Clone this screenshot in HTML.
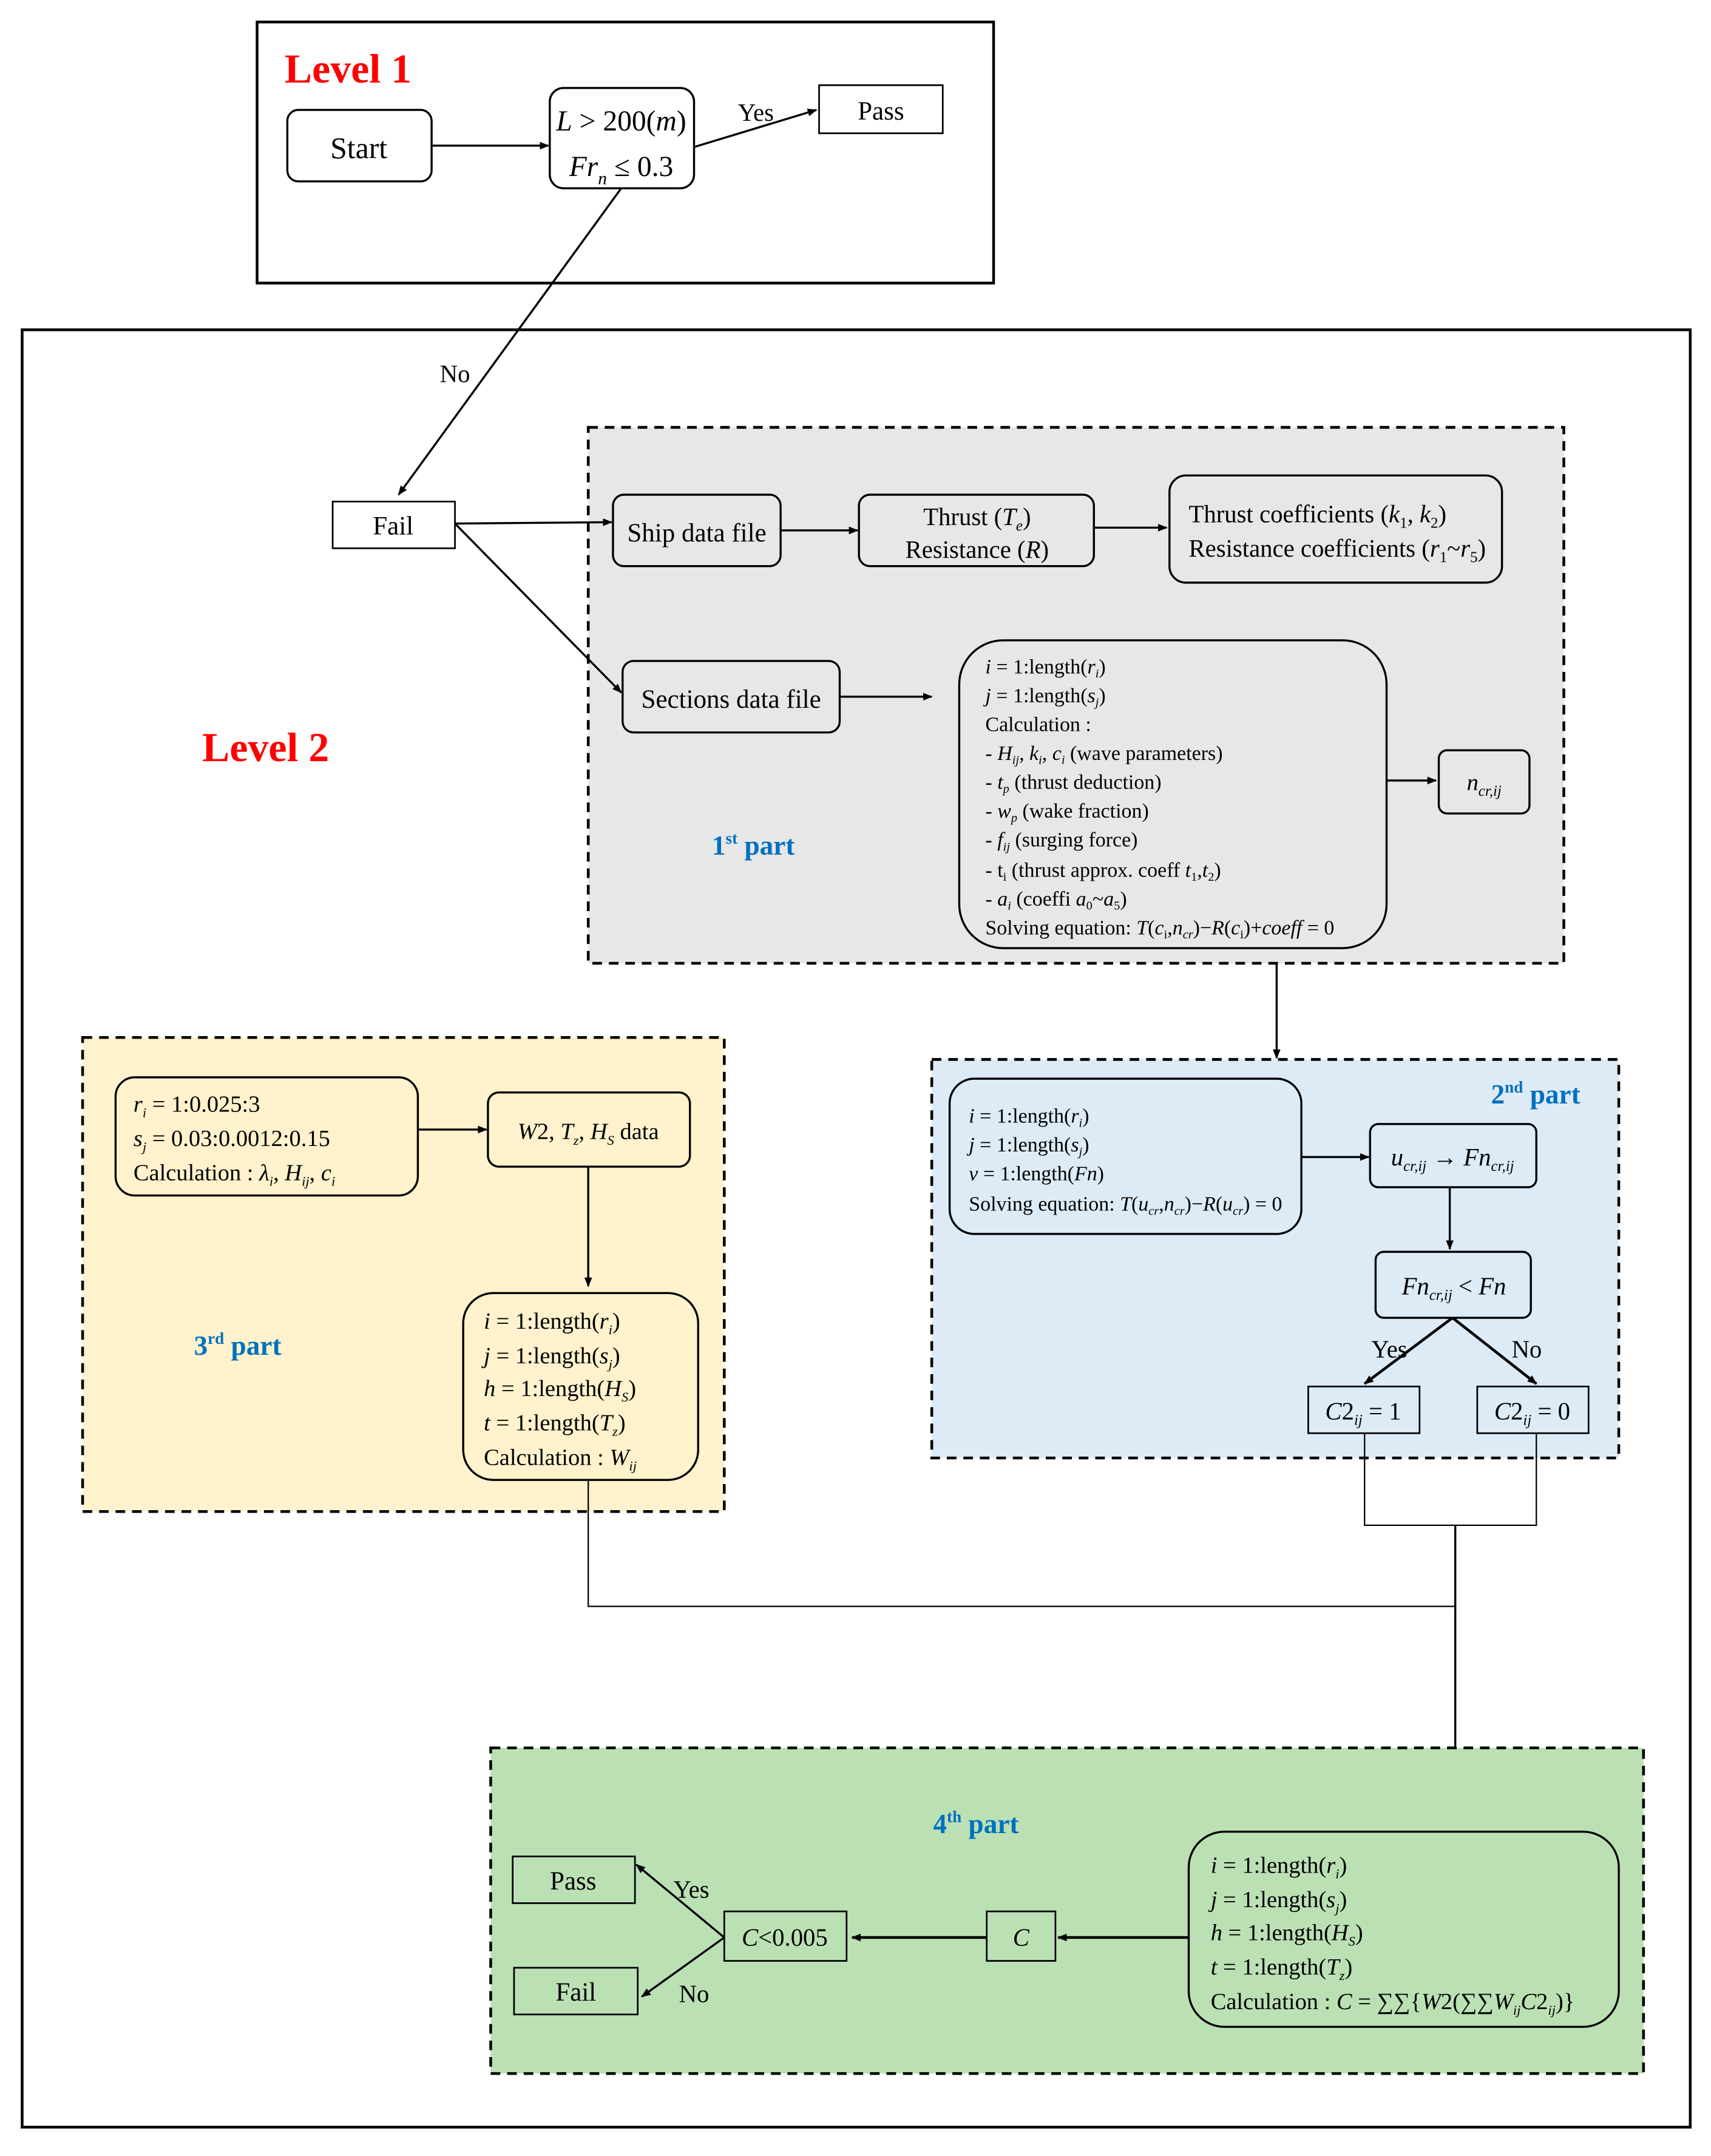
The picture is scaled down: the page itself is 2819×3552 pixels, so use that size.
<!DOCTYPE html>
<html><head><meta charset="utf-8"><style>
html,body{margin:0;padding:0;background:#fff;}
svg{display:block;}
text{font-family:"Liberation Serif",serif;fill:#000;}
.i{font-style:italic;}
</style></head><body>
<svg width="2819" height="3552" viewBox="0 0 1245 1569" xmlns="http://www.w3.org/2000/svg">
<defs>
<marker id="a" viewBox="0 0 10 10" refX="9" refY="5" markerWidth="7" markerHeight="7" orient="auto-start-reverse" markerUnits="userSpaceOnUse"><path d="M0,1 L10,5 L0,9 z" fill="#000"/></marker>
</defs>
<rect width="1245" height="1569" fill="#fff"/>
<!-- Level 1 -->
<rect x="187" y="16" width="536" height="190" fill="none" stroke="#000" stroke-width="2"/>
<text x="207" y="60" font-size="30" font-weight="bold" style="fill:#f00">Level 1</text>
<rect x="209" y="80" width="105" height="52" rx="8" fill="#fff" stroke="#000" stroke-width="1.5"/>
<text x="261" y="115" font-size="22" text-anchor="middle">Start</text>
<rect x="400" y="64" width="105" height="73" rx="10" fill="#fff" stroke="#000" stroke-width="1.5"/>
<text x="452" y="95" font-size="21" text-anchor="middle"><tspan class="i">L</tspan> &gt; 200(<tspan class="i">m</tspan>)</text>
<text x="452" y="128" font-size="21" text-anchor="middle"><tspan class="i">Fr</tspan><tspan class="i" font-size="13" dy="6">n</tspan><tspan dy="-6"> ≤ 0.3</tspan></text>
<line x1="314" y1="106" x2="399" y2="106" stroke="#000" stroke-width="1.5" marker-end="url(#a)"/>
<line x1="505" y1="107" x2="594" y2="80" stroke="#000" stroke-width="1.5" marker-end="url(#a)"/>
<text x="550" y="88" font-size="18" text-anchor="middle">Yes</text>
<rect x="596" y="62" width="90" height="35" fill="#fff" stroke="#000" stroke-width="1.2"/>
<text x="641" y="87" font-size="19" text-anchor="middle">Pass</text>
<!-- Level 2 -->
<rect x="16" y="240" width="1214" height="1308" fill="none" stroke="#000" stroke-width="2"/>
<line x1="452" y1="137" x2="290" y2="360" stroke="#000" stroke-width="1.5" marker-end="url(#a)"/>
<text x="331" y="278" font-size="18" text-anchor="middle">No</text>
<text x="147" y="554" font-size="30" font-weight="bold" style="fill:#f00">Level 2</text>
<rect x="242" y="365" width="89" height="34" fill="#fff" stroke="#000" stroke-width="1.2"/>
<text x="286" y="389" font-size="19" text-anchor="middle">Fail</text>
<!-- 1st part -->
<rect x="428" y="311" width="710" height="390" fill="#e7e7e7" stroke="#000" stroke-width="2" stroke-dasharray="7,5"/>
<line x1="331" y1="381" x2="445" y2="380" stroke="#000" stroke-width="1.5" marker-end="url(#a)"/>
<line x1="331" y1="381" x2="452" y2="504" stroke="#000" stroke-width="1.5" marker-end="url(#a)"/>
<rect x="446" y="360" width="122" height="52" rx="8" fill="#e7e7e7" stroke="#000" stroke-width="1.5"/>
<text x="507" y="394" font-size="19" text-anchor="middle">Ship data file</text>
<line x1="568" y1="386" x2="624" y2="386" stroke="#000" stroke-width="1.5" marker-end="url(#a)"/>
<rect x="625" y="360" width="171" height="52" rx="8" fill="#e7e7e7" stroke="#000" stroke-width="1.5"/>
<text x="711" y="382" font-size="18" text-anchor="middle">Thrust (<tspan class="i">T</tspan><tspan class="i" font-size="11" dy="4">e</tspan><tspan dy="-4">)</tspan></text>
<text x="711" y="406" font-size="18" text-anchor="middle">Resistance (<tspan class="i">R</tspan>)</text>
<line x1="796" y1="384" x2="849" y2="384" stroke="#000" stroke-width="1.5" marker-end="url(#a)"/>
<rect x="851" y="346" width="242" height="78" rx="12" fill="#e7e7e7" stroke="#000" stroke-width="1.5"/>
<text x="865" y="380" font-size="18">Thrust coefficients (<tspan class="i">k</tspan><tspan font-size="11" dy="4">1</tspan><tspan dy="-4">, </tspan><tspan class="i">k</tspan><tspan font-size="11" dy="4">2</tspan><tspan dy="-4">)</tspan></text>
<text x="865" y="405" font-size="18">Resistance coefficients (<tspan class="i">r</tspan><tspan font-size="11" dy="4">1</tspan><tspan dy="-4">~</tspan><tspan class="i">r</tspan><tspan font-size="11" dy="4">5</tspan><tspan dy="-4">)</tspan></text>
<rect x="453" y="481" width="158" height="52" rx="8" fill="#e7e7e7" stroke="#000" stroke-width="1.5"/>
<text x="532" y="515" font-size="19" text-anchor="middle">Sections data file</text>
<line x1="611" y1="507" x2="678" y2="507" stroke="#000" stroke-width="1.5" marker-end="url(#a)"/>
<rect x="698" y="466" width="311" height="224" rx="32" fill="#e7e7e7" stroke="#000" stroke-width="1.5"/>
<g font-size="15">
<text x="717" y="490"><tspan class="i">i</tspan> = 1:length(<tspan class="i">r</tspan><tspan class="i" font-size="9" dy="3">i</tspan><tspan dy="-3">)</tspan></text>
<text x="717" y="511"><tspan class="i">j</tspan> = 1:length(<tspan class="i">s</tspan><tspan class="i" font-size="9" dy="3">j</tspan><tspan dy="-3">)</tspan></text>
<text x="717" y="532">Calculation :</text>
<text x="717" y="553">- <tspan class="i">H</tspan><tspan class="i" font-size="9" dy="3">ij</tspan><tspan dy="-3">, </tspan><tspan class="i">k</tspan><tspan class="i" font-size="9" dy="3">i</tspan><tspan dy="-3">, </tspan><tspan class="i">c</tspan><tspan class="i" font-size="9" dy="3">i</tspan><tspan dy="-3"> (wave parameters)</tspan></text>
<text x="717" y="574">- <tspan class="i">t</tspan><tspan class="i" font-size="9" dy="3">p</tspan><tspan dy="-3"> (thrust deduction)</tspan></text>
<text x="717" y="595">- <tspan class="i">w</tspan><tspan class="i" font-size="9" dy="3">p</tspan><tspan dy="-3"> (wake fraction)</tspan></text>
<text x="717" y="616">- <tspan class="i">f</tspan><tspan class="i" font-size="9" dy="3">ij</tspan><tspan dy="-3"> (surging force)</tspan></text>
<text x="717" y="638">- t<tspan font-size="9" dy="3">i</tspan><tspan dy="-3"> (thrust approx. coeff </tspan><tspan class="i">t</tspan><tspan font-size="9" dy="3">1</tspan><tspan dy="-3">,</tspan><tspan class="i">t</tspan><tspan font-size="9" dy="3">2</tspan><tspan dy="-3">)</tspan></text>
<text x="717" y="659">- <tspan class="i">a</tspan><tspan class="i" font-size="9" dy="3">i</tspan><tspan dy="-3"> (coeffi </tspan><tspan class="i">a</tspan><tspan font-size="9" dy="3">0</tspan><tspan dy="-3">~</tspan><tspan class="i">a</tspan><tspan font-size="9" dy="3">5</tspan><tspan dy="-3">)</tspan></text>
<text x="717" y="680">Solving equation: <tspan class="i">T</tspan>(<tspan class="i">c</tspan><tspan font-size="9" dy="3">i</tspan><tspan dy="-3">,</tspan><tspan class="i">n</tspan><tspan class="i" font-size="9" dy="3">cr</tspan><tspan dy="-3">)−</tspan><tspan class="i">R</tspan>(<tspan class="i">c</tspan><tspan font-size="9" dy="3">i</tspan><tspan dy="-3">)+</tspan><tspan class="i">coeff</tspan> = 0</text>
</g>
<line x1="1009" y1="568" x2="1045" y2="568" stroke="#000" stroke-width="1.5" marker-end="url(#a)"/>
<rect x="1047" y="546" width="66" height="46" rx="6" fill="#e7e7e7" stroke="#000" stroke-width="1.5"/>
<text x="1080" y="575" font-size="17" text-anchor="middle"><tspan class="i">n</tspan><tspan class="i" font-size="11" dy="4">cr,ij</tspan></text>
<text x="518" y="622" font-size="20" font-weight="bold" style="fill:#0070c0">1<tspan font-size="12" dy="-8">st</tspan><tspan dy="8"> part</tspan></text>
<!-- to 2nd part -->
<line x1="929" y1="701" x2="929" y2="770" stroke="#000" stroke-width="1.5" marker-end="url(#a)"/>
<!-- 2nd part -->
<rect x="678" y="771" width="500" height="290" fill="#ddebf7" stroke="#000" stroke-width="2" stroke-dasharray="7,5"/>
<text x="1085" y="803" font-size="20" font-weight="bold" style="fill:#0070c0">2<tspan font-size="12" dy="-8">nd</tspan><tspan dy="8"> part</tspan></text>
<rect x="691" y="785" width="256" height="113" rx="18" fill="#ddebf7" stroke="#000" stroke-width="1.5"/>
<g font-size="15">
<text x="705" y="817"><tspan class="i">i</tspan> = 1:length(<tspan class="i">r</tspan><tspan class="i" font-size="9" dy="3">i</tspan><tspan dy="-3">)</tspan></text>
<text x="705" y="838"><tspan class="i">j</tspan> = 1:length(<tspan class="i">s</tspan><tspan class="i" font-size="9" dy="3">j</tspan><tspan dy="-3">)</tspan></text>
<text x="705" y="859"><tspan class="i">v</tspan> = 1:length(<tspan class="i">Fn</tspan>)</text>
<text x="705" y="881">Solving equation: <tspan class="i">T</tspan>(<tspan class="i">u</tspan><tspan class="i" font-size="9" dy="3">cr</tspan><tspan dy="-3">,</tspan><tspan class="i">n</tspan><tspan class="i" font-size="9" dy="3">cr</tspan><tspan dy="-3">)−</tspan><tspan class="i">R</tspan>(<tspan class="i">u</tspan><tspan class="i" font-size="9" dy="3">cr</tspan><tspan dy="-3">) = 0</tspan></text>
</g>
<line x1="947" y1="842" x2="996" y2="842" stroke="#000" stroke-width="1.5" marker-end="url(#a)"/>
<rect x="997" y="818" width="121" height="46" rx="6" fill="#ddebf7" stroke="#000" stroke-width="1.5"/>
<text x="1057" y="848" font-size="18" text-anchor="middle"><tspan class="i">u</tspan><tspan class="i" font-size="11" dy="4">cr,ij</tspan><tspan dy="-4"> → </tspan><tspan class="i">Fn</tspan><tspan class="i" font-size="11" dy="4">cr,ij</tspan></text>
<line x1="1055" y1="864" x2="1055" y2="909" stroke="#000" stroke-width="1.5" marker-end="url(#a)"/>
<rect x="1001" y="911" width="113" height="48" rx="6" fill="#ddebf7" stroke="#000" stroke-width="1.5"/>
<text x="1058" y="942" font-size="18" text-anchor="middle"><tspan class="i">Fn</tspan><tspan class="i" font-size="11" dy="4">cr,ij</tspan><tspan dy="-4"> &lt; </tspan><tspan class="i">Fn</tspan></text>
<line x1="1057" y1="959" x2="993" y2="1007" stroke="#000" stroke-width="2" marker-end="url(#a)"/>
<line x1="1057" y1="959" x2="1118" y2="1007" stroke="#000" stroke-width="2" marker-end="url(#a)"/>
<text x="1011" y="988" font-size="18" text-anchor="middle">Yes</text>
<text x="1111" y="988" font-size="18" text-anchor="middle">No</text>
<rect x="952" y="1009" width="81" height="34" fill="#ddebf7" stroke="#000" stroke-width="1.2"/>
<text x="992" y="1033" font-size="18" text-anchor="middle"><tspan class="i">C</tspan>2<tspan class="i" font-size="11" dy="4">ij</tspan><tspan dy="-4"> = 1</tspan></text>
<rect x="1075" y="1009" width="81" height="34" fill="#ddebf7" stroke="#000" stroke-width="1.2"/>
<text x="1115" y="1033" font-size="18" text-anchor="middle"><tspan class="i">C</tspan>2<tspan class="i" font-size="11" dy="4">ij</tspan><tspan dy="-4"> = 0</tspan></text>
<polyline points="993,1043 993,1110 1118,1110 1118,1043" fill="none" stroke="#000" stroke-width="1"/>
<line x1="1059" y1="1110" x2="1059" y2="1330" stroke="#000" stroke-width="1.5" marker-end="url(#a)"/>
<!-- 3rd part -->
<rect x="60" y="755" width="467" height="345" fill="#fff2cc" stroke="#000" stroke-width="2" stroke-dasharray="7,5"/>
<rect x="84" y="784" width="220" height="86" rx="14" fill="#fff2cc" stroke="#000" stroke-width="1.5"/>
<g font-size="17">
<text x="97" y="809"><tspan class="i">r</tspan><tspan class="i" font-size="10" dy="4">i</tspan><tspan dy="-4"> = 1:0.025:3</tspan></text>
<text x="97" y="834"><tspan class="i">s</tspan><tspan class="i" font-size="10" dy="4">j</tspan><tspan dy="-4"> = 0.03:0.0012:0.15</tspan></text>
<text x="97" y="859">Calculation : <tspan class="i">λ</tspan><tspan class="i" font-size="10" dy="4">i</tspan><tspan dy="-4">, </tspan><tspan class="i">H</tspan><tspan class="i" font-size="10" dy="4">ij</tspan><tspan dy="-4">, </tspan><tspan class="i">c</tspan><tspan class="i" font-size="10" dy="4">i</tspan></text>
</g>
<line x1="304" y1="822" x2="354" y2="822" stroke="#000" stroke-width="1.5" marker-end="url(#a)"/>
<rect x="355" y="795" width="147" height="54" rx="8" fill="#fff2cc" stroke="#000" stroke-width="1.5"/>
<text x="428" y="829" font-size="17" text-anchor="middle"><tspan class="i">W</tspan>2, <tspan class="i">T</tspan><tspan class="i" font-size="10" dy="4">z</tspan><tspan dy="-4">, </tspan><tspan class="i">H</tspan><tspan class="i" font-size="10" dy="4">S</tspan><tspan dy="-4"> data</tspan></text>
<line x1="428" y1="849" x2="428" y2="936" stroke="#000" stroke-width="1.5" marker-end="url(#a)"/>
<rect x="337" y="941" width="171" height="136" rx="22" fill="#fff2cc" stroke="#000" stroke-width="1.5"/>
<g font-size="17">
<text x="352" y="967"><tspan class="i">i</tspan> = 1:length(<tspan class="i">r</tspan><tspan class="i" font-size="10" dy="4">i</tspan><tspan dy="-4">)</tspan></text>
<text x="352" y="992"><tspan class="i">j</tspan> = 1:length(<tspan class="i">s</tspan><tspan class="i" font-size="10" dy="4">j</tspan><tspan dy="-4">)</tspan></text>
<text x="352" y="1016"><tspan class="i">h</tspan> = 1:length(<tspan class="i">H</tspan><tspan class="i" font-size="10" dy="4">S</tspan><tspan dy="-4">)</tspan></text>
<text x="352" y="1041"><tspan class="i">t</tspan> = 1:length(<tspan class="i">T</tspan><tspan class="i" font-size="10" dy="4">z</tspan><tspan dy="-4">)</tspan></text>
<text x="352" y="1066">Calculation : <tspan class="i">W</tspan><tspan class="i" font-size="10" dy="4">ij</tspan></text>
</g>
<text x="141" y="986" font-size="20" font-weight="bold" style="fill:#0070c0">3<tspan font-size="12" dy="-8">rd</tspan><tspan dy="8"> part</tspan></text>
<polyline points="428,1077 428,1169 1059,1169" fill="none" stroke="#000" stroke-width="1"/>
<!-- 4th part -->
<rect x="357" y="1272" width="839" height="237" fill="#bbe0b4" stroke="#000" stroke-width="2" stroke-dasharray="7,5"/>
<text x="679" y="1334" font-size="20" font-weight="bold" style="fill:#0070c0">4<tspan font-size="12" dy="-8">th</tspan><tspan dy="8"> part</tspan></text>
<rect x="865" y="1333" width="313" height="142" rx="26" fill="#bbe0b4" stroke="#000" stroke-width="1.5"/>
<g font-size="17">
<text x="881" y="1363"><tspan class="i">i</tspan> = 1:length(<tspan class="i">r</tspan><tspan class="i" font-size="10" dy="4">i</tspan><tspan dy="-4">)</tspan></text>
<text x="881" y="1388"><tspan class="i">j</tspan> = 1:length(<tspan class="i">s</tspan><tspan class="i" font-size="10" dy="4">j</tspan><tspan dy="-4">)</tspan></text>
<text x="881" y="1412"><tspan class="i">h</tspan> = 1:length(<tspan class="i">H</tspan><tspan class="i" font-size="10" dy="4">S</tspan><tspan dy="-4">)</tspan></text>
<text x="881" y="1437"><tspan class="i">t</tspan> = 1:length(<tspan class="i">T</tspan><tspan class="i" font-size="10" dy="4">z</tspan><tspan dy="-4">)</tspan></text>
<text x="881" y="1462">Calculation : <tspan class="i">C</tspan> = ∑∑{<tspan class="i">W</tspan>2(∑∑<tspan class="i">W</tspan><tspan class="i" font-size="10" dy="4">ij</tspan><tspan dy="-4" class="i">C</tspan>2<tspan class="i" font-size="10" dy="4">ij</tspan><tspan dy="-4">)}</tspan></text>
</g>
<line x1="865" y1="1410" x2="770" y2="1410" stroke="#000" stroke-width="2" marker-end="url(#a)"/>
<rect x="718" y="1391" width="50" height="36" fill="#bbe0b4" stroke="#000" stroke-width="1.2"/>
<text x="743" y="1416" font-size="18" text-anchor="middle" class="i">C</text>
<line x1="718" y1="1410" x2="620" y2="1410" stroke="#000" stroke-width="2" marker-end="url(#a)"/>
<rect x="527" y="1391" width="89" height="36" fill="#bbe0b4" stroke="#000" stroke-width="1.2"/>
<text x="571" y="1416" font-size="18" text-anchor="middle"><tspan class="i">C</tspan>&lt;0.005</text>
<line x1="527" y1="1410" x2="463" y2="1357" stroke="#000" stroke-width="1.5" marker-end="url(#a)"/>
<line x1="527" y1="1410" x2="467" y2="1453" stroke="#000" stroke-width="1.5" marker-end="url(#a)"/>
<text x="503" y="1381" font-size="18" text-anchor="middle">Yes</text>
<text x="505" y="1457" font-size="18" text-anchor="middle">No</text>
<rect x="373" y="1351" width="89" height="34" fill="#bbe0b4" stroke="#000" stroke-width="1.2"/>
<text x="417" y="1375" font-size="19" text-anchor="middle">Pass</text>
<rect x="374" y="1432" width="90" height="34" fill="#bbe0b4" stroke="#000" stroke-width="1.2"/>
<text x="419" y="1456" font-size="19" text-anchor="middle">Fail</text>
</svg>
</body></html>
